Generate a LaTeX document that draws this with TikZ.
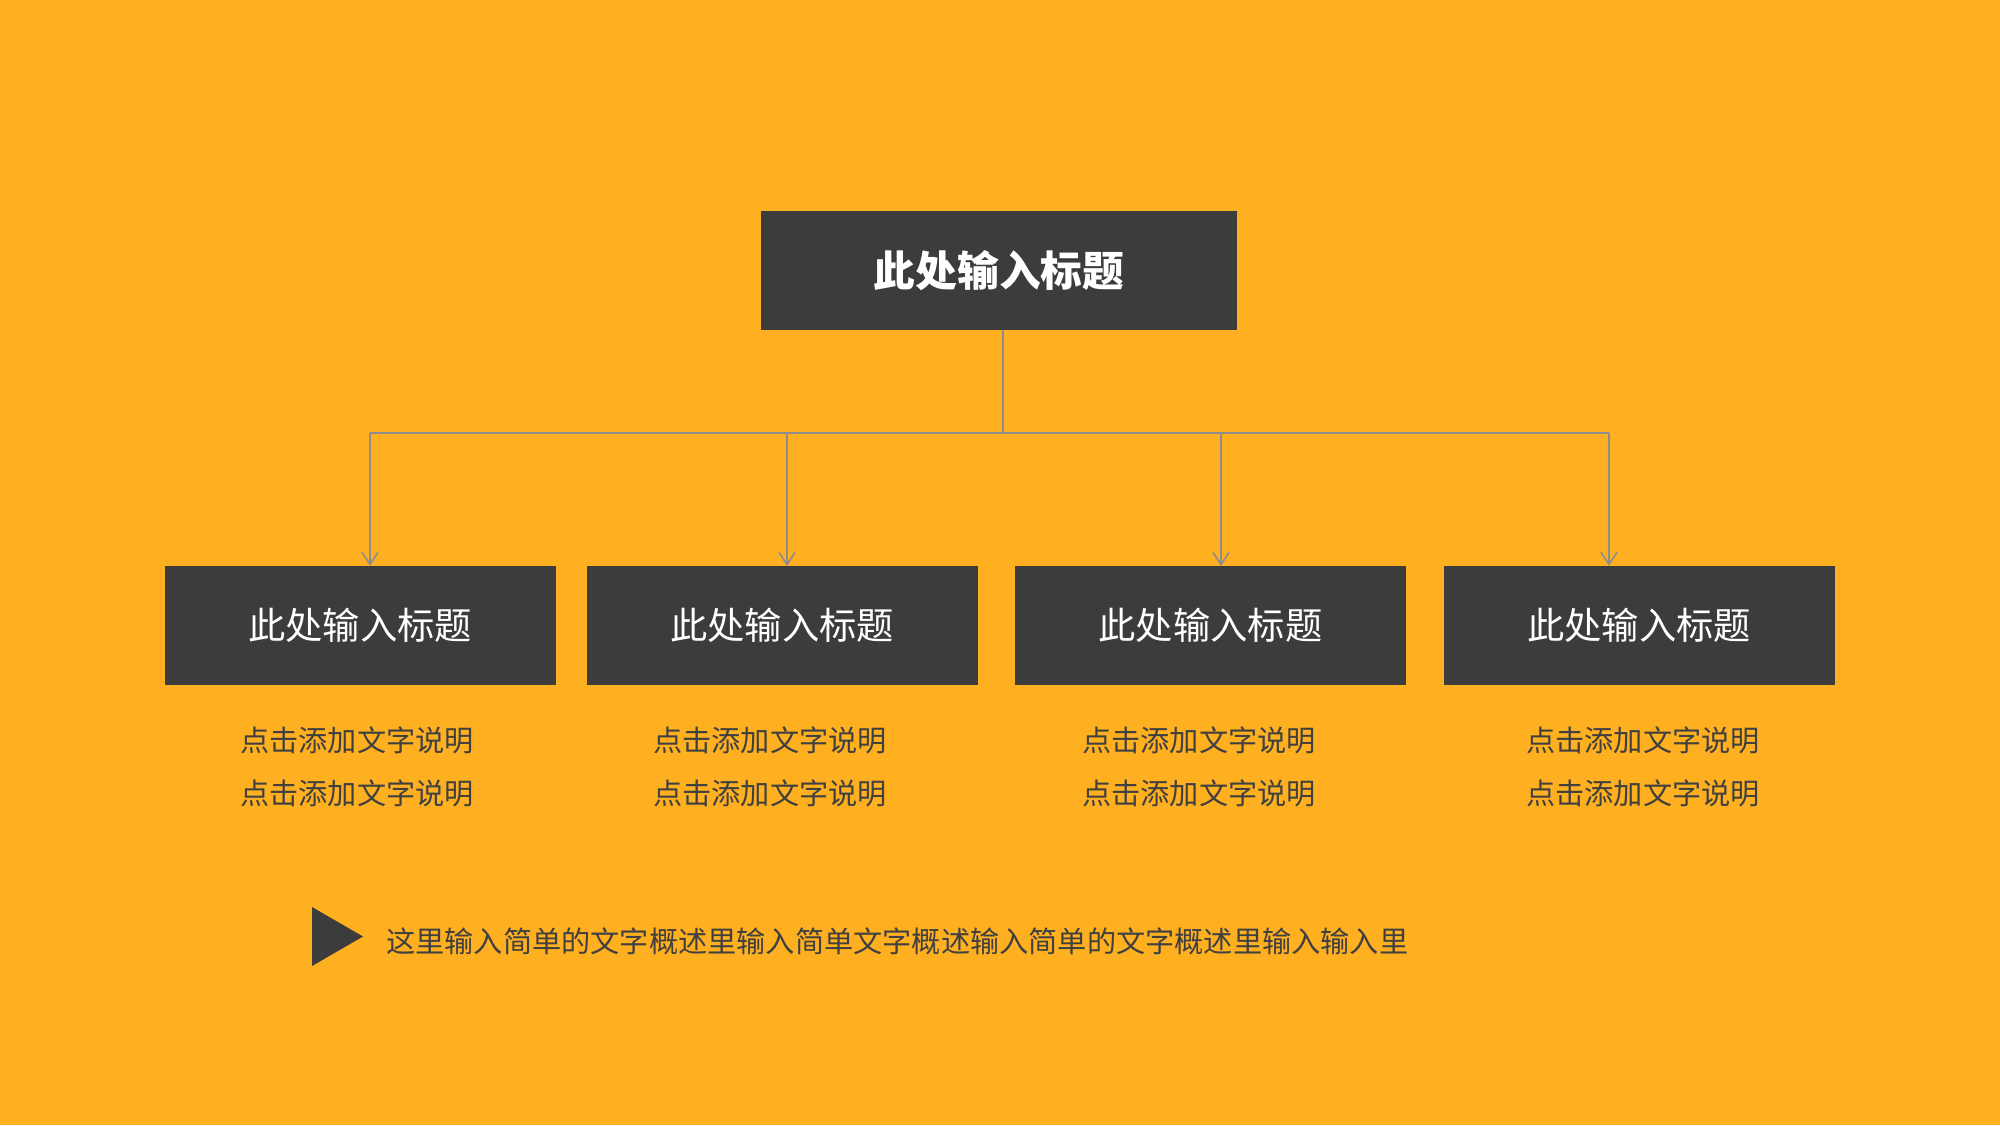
\documentclass[tikz,border=0pt]{standalone}
\usepackage{fontspec}
\newfontfamily\cjk{Noto Sans CJK SC}
\usetikzlibrary{arrows.meta}
\definecolor{bgorange}{RGB}{255,176,32}
\definecolor{boxgray}{RGB}{60,60,60}
\definecolor{linegray}{RGB}{140,140,140}
\definecolor{txtgray}{RGB}{64,64,64}
\tikzset{
  headbox/.style={fill=boxgray, draw=none, minimum width=476pt, minimum height=119pt, inner sep=0pt, text=white, font=\cjk\bfseries\fontsize{41.7}{46}\selectfont},
  subbox/.style={fill=boxgray, draw=none, minimum width=391pt, minimum height=119pt, inner sep=0pt, text=white, font=\cjk\fontsize{37.3}{41}\selectfont},
  desc/.style={text=txtgray, inner sep=0pt, font=\cjk\fontsize{29.2}{33}\selectfont},
  conn/.style={draw=linegray, line width=1.6pt},
  arr/.style={conn, -{Straight Barb[length=12pt,width=16pt,line width=1.6pt]}},
}
\begin{document}
\begin{tikzpicture}[x=1pt,y=-1pt]
\fill[bgorange] (0,0) rectangle (2000,1125);
\useasboundingbox (0,0) rectangle (2000,1125);
\node[headbox] (top) at (999,270.5) {此处输入标题};
\node[subbox] (b1) at (360,625.5) {此处输入标题};
\node[subbox] (b2) at (782,625.5) {此处输入标题};
\node[subbox] (b3) at (1210.5,625.5) {此处输入标题};
\node[subbox] (b4) at (1639,625.5) {此处输入标题};
\coordinate (hub) at (1003,433);
\coordinate (hl) at (370,433);
\coordinate (hr) at (1609,433);
\draw[conn] (top.south -| hub) -- (hub);
\draw[conn] (hl) -- (hr);
\draw[arr] (hl) -- (hl |- b1.north);
\draw[arr] (787,433) -- (787,566);
\draw[arr] (1221,433) -- (1221,566);
\draw[arr] (hr) -- (hr |- b4.north);
\node[desc] (d1a) at (357,740) {点击添加文字说明};
\node[desc] (d1b) at (357,793) {点击添加文字说明};
\node[desc] (d2a) at (770,740) {点击添加文字说明};
\node[desc] (d2b) at (770,793) {点击添加文字说明};
\node[desc] (d3a) at (1199,740) {点击添加文字说明};
\node[desc] (d3b) at (1199,793) {点击添加文字说明};
\node[desc] (d4a) at (1643,740) {点击添加文字说明};
\node[desc] (d4b) at (1643,793) {点击添加文字说明};
\fill[boxgray] (312,907) -- (363,936.5) -- (312,966) -- cycle;
\node[desc, anchor=west] (note) at (386,941) {这里输入简单的文字概述里输入简单文字概述输入简单的文字概述里输入输入里};
\end{tikzpicture}
\end{document}
